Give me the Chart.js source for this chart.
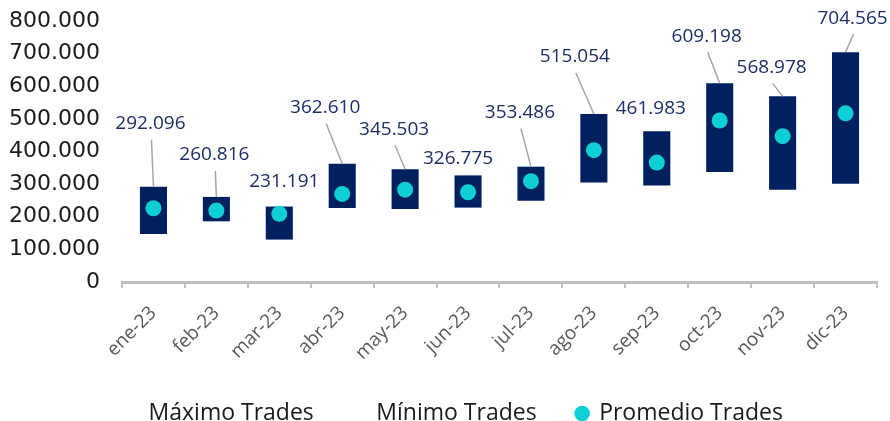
<!DOCTYPE html>
<html>
<head>
<meta charset="utf-8">
<script src="https://cdn.jsdelivr.net/npm/chart.js@4.4.1/dist/chart.umd.min.js"></script>
<style>
  html, body { margin: 0; padding: 0; background: #ffffff; }
  #wrap { width: 890px; height: 421px; }
</style>
</head>
<body>
<div id="wrap"><canvas id="tradeschart"></canvas></div>
<script>
// trades-by-month chart
const months = ['ene-23', 'feb-23', 'mar-23', 'abr-23', 'may-23', 'jun-23', 'jul-23', 'ago-23', 'sep-23', 'oct-23', 'nov-23', 'dic-23'];
const maxTrades = [292096, 260816, 231191, 362610, 345503, 326775, 353486, 515054, 461983, 609198, 568978, 704565];
const minTrades = [147000, 186000, 130000, 227000, 224000, 228000, 249000, 305000, 296000, 337000, 283000, 301000];
const avgTrades = [226000, 219000, 209000, 270000, 283000, 275000, 309000, 404000, 366000, 495000, 447000, 517000];
const yTicks = [0, 100000, 200000, 300000, 400000, 500000, 600000, 700000, 800000];

// label offsets (px) from the top of each bar
const labelOffsets = [[-3, -63], [-2, -42], [5, -25], [-17, -56], [-11, -40], [-10, -17], [-11, -54], [-19, -57], [-6, -23], [-13, -47], [-11, -29], [7, -34]];

function fmt(n) {
    return String(n).replace(/\B(?=(\d{3})+(?!\d))/g, '.');
}

const maxLabels = {
    id: 'maxLabels',
    afterDatasetsDraw(chart) {
        "use strict";
        const ctx = chart.ctx;
        const meta = chart.getDatasetMeta(3);
        ctx.save();
        meta.data.forEach(function (bar, i) {
            const off = labelOffsets[i];
            const lx = bar.x + off[0];
            const ly = bar.y + off[1];
            if (off[1] <= -28) {
                ctx.beginPath();
                ctx.strokeStyle = '#a6a6a6';
                ctx.lineWidth = 1.5;
                ctx.moveTo(lx + 1, ly + 16);
                ctx.lineTo(bar.x, bar.y);
                ctx.stroke();
            }
            ctx.fillStyle = '#1b2f66';
            ctx.font = '19px "Open Sans"';
            ctx.textAlign = 'center';
            ctx.textBaseline = 'middle';
            ctx.fillText(fmt(maxTrades[i]), lx, ly);
        });
        ctx.restore();
    }
};

const chartdata = {
    labels: months,
    datasets: [
        {
            type: 'line',
            label: 'Máximo Trades',
            data: maxTrades,
            showLine: false,
            pointRadius: 0,
            pointHoverRadius: 0,
            borderColor: 'rgba(0,0,0,0)',
            backgroundColor: 'rgba(0,0,0,0)',
            pointStyle: 'line'
        },
        {
            type: 'line',
            label: 'Mínimo Trades',
            data: minTrades,
            showLine: false,
            pointRadius: 0,
            pointHoverRadius: 0,
            borderColor: 'rgba(0,0,0,0)',
            backgroundColor: 'rgba(0,0,0,0)',
            pointStyle: 'line'
        },
        {
            type: 'line',
            label: 'Promedio Trades',
            data: avgTrades,
            showLine: false,
            pointRadius: 8,
            pointHoverRadius: 8,
            pointBorderWidth: 0,
            borderColor: '#0fcfd6',
            backgroundColor: '#0fcfd6',
            pointStyle: 'circle',
            order: 0
        },
        {
            type: 'bar',
            label: 'Rango',
            data: minTrades.map(function (m, i) { return [m, maxTrades[i]]; }),
            backgroundColor: '#002060',
            borderWidth: 0,
            categoryPercentage: 1,
            barPercentage: 0.43,
            order: 1
        }
    ]
};

const config = {
    type: 'bar',
    data: chartdata,
    options: {
        responsive: true,
        maintainAspectRatio: false,
        animation: false,
        layout: {
            padding: { top: 21, left: 9, right: 13, bottom: -14 }
        },
        scales: {
            x: {
                offset: true,
                afterFit: function (scale) {
                    scale.paddingLeft = 0;
                    scale.paddingRight = 0;
                    scale.height = 80;
                },
                grid: {
                    offset: true,
                    drawOnChartArea: false,
                    drawTicks: true,
                    tickLength: 6,
                    color: '#bfbfbf',
                    lineWidth: 2
                },
                border: { display: true, color: '#bfbfbf', width: 3 },
                ticks: {
                    autoSkip: false,
                    minRotation: 45,
                    maxRotation: 45,
                    color: '#595959',
                    padding: 14,
                    font: { family: '"Open Sans"', size: 19 }
                }
            },
            y: {
                min: 0,
                max: 800000,
                afterBuildTicks: function (axis) {
                    axis.ticks = yTicks.map(function (v) { return { value: v }; });
                },
                afterFit: function (scale) {
                    scale.width = 113;
                    scale.paddingTop = 13;
                    scale.paddingBottom = 13;
                },
                grid: { display: false, drawTicks: false, tickLength: 0 },
                border: { display: false },
                ticks: {
                    color: '#1a1a1a',
                    padding: 22,
                    font: { family: '"DejaVu Sans"', size: 22 },
                    callback: function (v) { return fmt(v); }
                }
            }
        },
        plugins: {
            legend: {
                display: true,
                position: 'bottom',
                labels: {
                    usePointStyle: true,
                    boxWidth: 11,
                    boxHeight: 11,
                    padding: 40,
                    color: '#1a1a1a',
                    font: { family: '"Open Sans"', size: 23 },
                    filter: function (item) { return item.datasetIndex !== 3; },
                    generateLabels: function (chart) {
                        const items = Chart.defaults.plugins.legend.labels.generateLabels(chart);
                        // a little room in front so the row sits where the original does
                        items[0].text = '\u2003' + items[0].text;
                        return items;
                    }
                }
            },
            tooltip: { enabled: false }
        }
    },
    plugins: [maxLabels]
};

let tradeschart = null;
if (document.getElementById('tradeschart')) {
    tradeschart = new Chart(document.getElementById('tradeschart'), config);
}
</script>
</body>
</html>
